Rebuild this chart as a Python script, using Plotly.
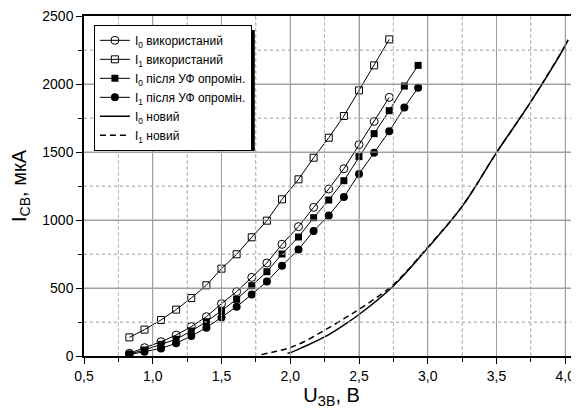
import plotly.graph_objects as go

# ---- data ----
u_markers = [0.83, 0.94, 1.06, 1.17, 1.28, 1.39, 1.50, 1.61, 1.72, 1.83,
             1.94, 2.06, 2.17, 2.28, 2.39, 2.50, 2.61, 2.72, 2.83, 2.93]

i0_used = [20, 61, 105, 154, 216, 289, 385, 473, 578, 684,
           821, 951, 1093, 1228, 1377, 1554, 1725, 1902]
i1_used = [137, 194, 265, 341, 426, 520, 642, 748, 873, 995,
           1152, 1299, 1458, 1605, 1765, 1953, 2137, 2328]
i0_uv = [15, 44, 86, 123, 184, 252, 333, 417, 517, 620,
         750, 875, 1017, 1147, 1289, 1466, 1635, 1804, 1985, 2137]
i1_uv = [10, 32, 56, 93, 147, 208, 284, 363, 453, 547,
         664, 784, 919, 1034, 1169, 1338, 1495, 1652, 1828, 1973]

u_new0 = [1.98, 2.0, 2.1, 2.25, 2.4, 2.5, 2.75, 3.0, 3.25, 3.5, 3.75, 4.0, 4.02]
i_new0 = [20, 24, 68, 140, 235, 305, 515, 795, 1100, 1495, 1870, 2282, 2323]
u_new1 = [1.79, 1.9, 2.0, 2.1, 2.25, 2.4, 2.5, 2.75, 3.0, 3.25, 3.5, 3.75, 4.0, 4.02]
i_new1 = [10, 35, 62, 105, 190, 280, 343, 525, 800, 1100, 1495, 1870, 2285, 2325]

x_major_ticks = [1.0, 1.5, 2.0, 2.5, 3.0, 3.5, 4.0]
x_minor_ticks = [0.75, 1.25, 1.75, 2.25, 2.75, 3.25, 3.75]
y_major_ticks = [500, 1000, 1500, 2000]
y_minor_ticks = [250, 750, 1250, 1750, 2250]

names = ["I<sub>0</sub> використаний", "I<sub>1</sub> використаний",
         "I<sub>0</sub> після УФ опромін.", "I<sub>1</sub> після УФ опромін.",
         "I<sub>0</sub> новий", "I<sub>1</sub> новий"]

FONT = "Liberation Sans, Arial, sans-serif"
fig = go.Figure()
line = dict(color="black", width=1)

fig.add_trace(go.Scatter(x=u_markers[:len(i0_used)], y=i0_used, name=names[0], mode="lines+markers",
                         line=line, marker=dict(symbol="circle-open", size=8, color="black", line=dict(width=1))))
fig.add_trace(go.Scatter(x=u_markers[:len(i1_used)], y=i1_used, name=names[1], mode="lines+markers",
                         line=line, marker=dict(symbol="square-open", size=7, color="black", line=dict(width=1))))
fig.add_trace(go.Scatter(x=u_markers, y=i0_uv, name=names[2], mode="lines+markers",
                         line=line, marker=dict(symbol="square", size=7, color="black")))
fig.add_trace(go.Scatter(x=u_markers, y=i1_uv, name=names[3], mode="lines+markers",
                         line=line, marker=dict(symbol="circle", size=8, color="black")))
fig.add_trace(go.Scatter(x=u_new0, y=i_new0, name=names[4], mode="lines",
                         line=dict(color="black", width=1.5, shape="spline")))
fig.add_trace(go.Scatter(x=u_new1, y=i_new1, name=names[5], mode="lines",
                         line=dict(color="black", width=1.5, dash="6px,4px", shape="spline")))

grid_major = "#a0a0a0"
grid_minor = "#bcbcbc"

# grid lines drawn through the axis scales
for xv in x_major_ticks:
    fig.add_shape(type="line", xref="x", yref="paper", x0=xv, x1=xv, y0=0, y1=1,
                  line=dict(color=grid_major, width=1), layer="above")
for xv in x_minor_ticks:
    fig.add_shape(type="line", xref="x", yref="paper", x0=xv, x1=xv, y0=0, y1=1,
                  line=dict(color=grid_minor, width=1, dash="dot"), layer="above")
for yv in y_major_ticks:
    fig.add_shape(type="line", xref="paper", yref="y", x0=0, x1=1, y0=yv, y1=yv,
                  line=dict(color=grid_major, width=1), layer="above")
for yv in y_minor_ticks:
    fig.add_shape(type="line", xref="paper", yref="y", x0=0, x1=1, y0=yv, y1=yv,
                  line=dict(color=grid_minor, width=1, dash="dot"), layer="above")

fig.update_xaxes(range=[0.5, 4.1], dtick=0.5, tick0=0.5, tickformat=".1f",
                 showline=True, linecolor="black", linewidth=1.5, mirror=True,
                 ticks="outside", ticklen=6, tickcolor="black",
                 showgrid=True, gridcolor=grid_major, gridwidth=1,
                 minor=dict(dtick=0.25, ticks="outside", ticklen=4, tickcolor="black",
                            showgrid=True, gridcolor=grid_minor, griddash="dot"),
                 zeroline=False, ticklabeloverflow="allow",
                 title=dict(text="U<sub>ЗВ</sub>, В", font=dict(size=20, family=FONT, color="black"), standoff=0),
                 tickfont=dict(size=14, family=FONT, color="black"))
fig.update_yaxes(range=[0, 2500], dtick=500,
                 showline=True, linecolor="black", linewidth=1.5,
                 ticks="outside", ticklen=6, tickcolor="black",
                 showgrid=True, gridcolor=grid_major, gridwidth=1,
                 minor=dict(dtick=250, ticks="outside", ticklen=4, tickcolor="black",
                            showgrid=True, gridcolor=grid_minor, griddash="dot"),
                 zeroline=False, ticklabeloverflow="allow",
                 title=dict(text="I<sub>СВ</sub>, мкА", font=dict(size=20, family=FONT, color="black"), standoff=18),
                 tickfont=dict(size=14, family=FONT, color="black"))

# legend shadow (added after the grid so it covers it)
fig.add_shape(type="rect", xref="paper", yref="paper", x0=0.030, x1=0.345, y0=0.603, y1=0.959,
              fillcolor="black", line=dict(width=0), layer="above")

fig.update_layout(
    width=571, height=409,
    margin=dict(l=76, r=0, t=8, b=61),
    paper_bgcolor="white", plot_bgcolor="white",
    separators=", ",
    font=dict(family=FONT, color="black"),
    showlegend=True,
    legend=dict(x=0.02, y=0.974, xanchor="left", yanchor="top",
                bgcolor="white", bordercolor="black", borderwidth=1,
                font=dict(size=12, family=FONT, color="black"),
                tracegroupgap=0, itemwidth=30),
)

fig.write_html("out.html")
